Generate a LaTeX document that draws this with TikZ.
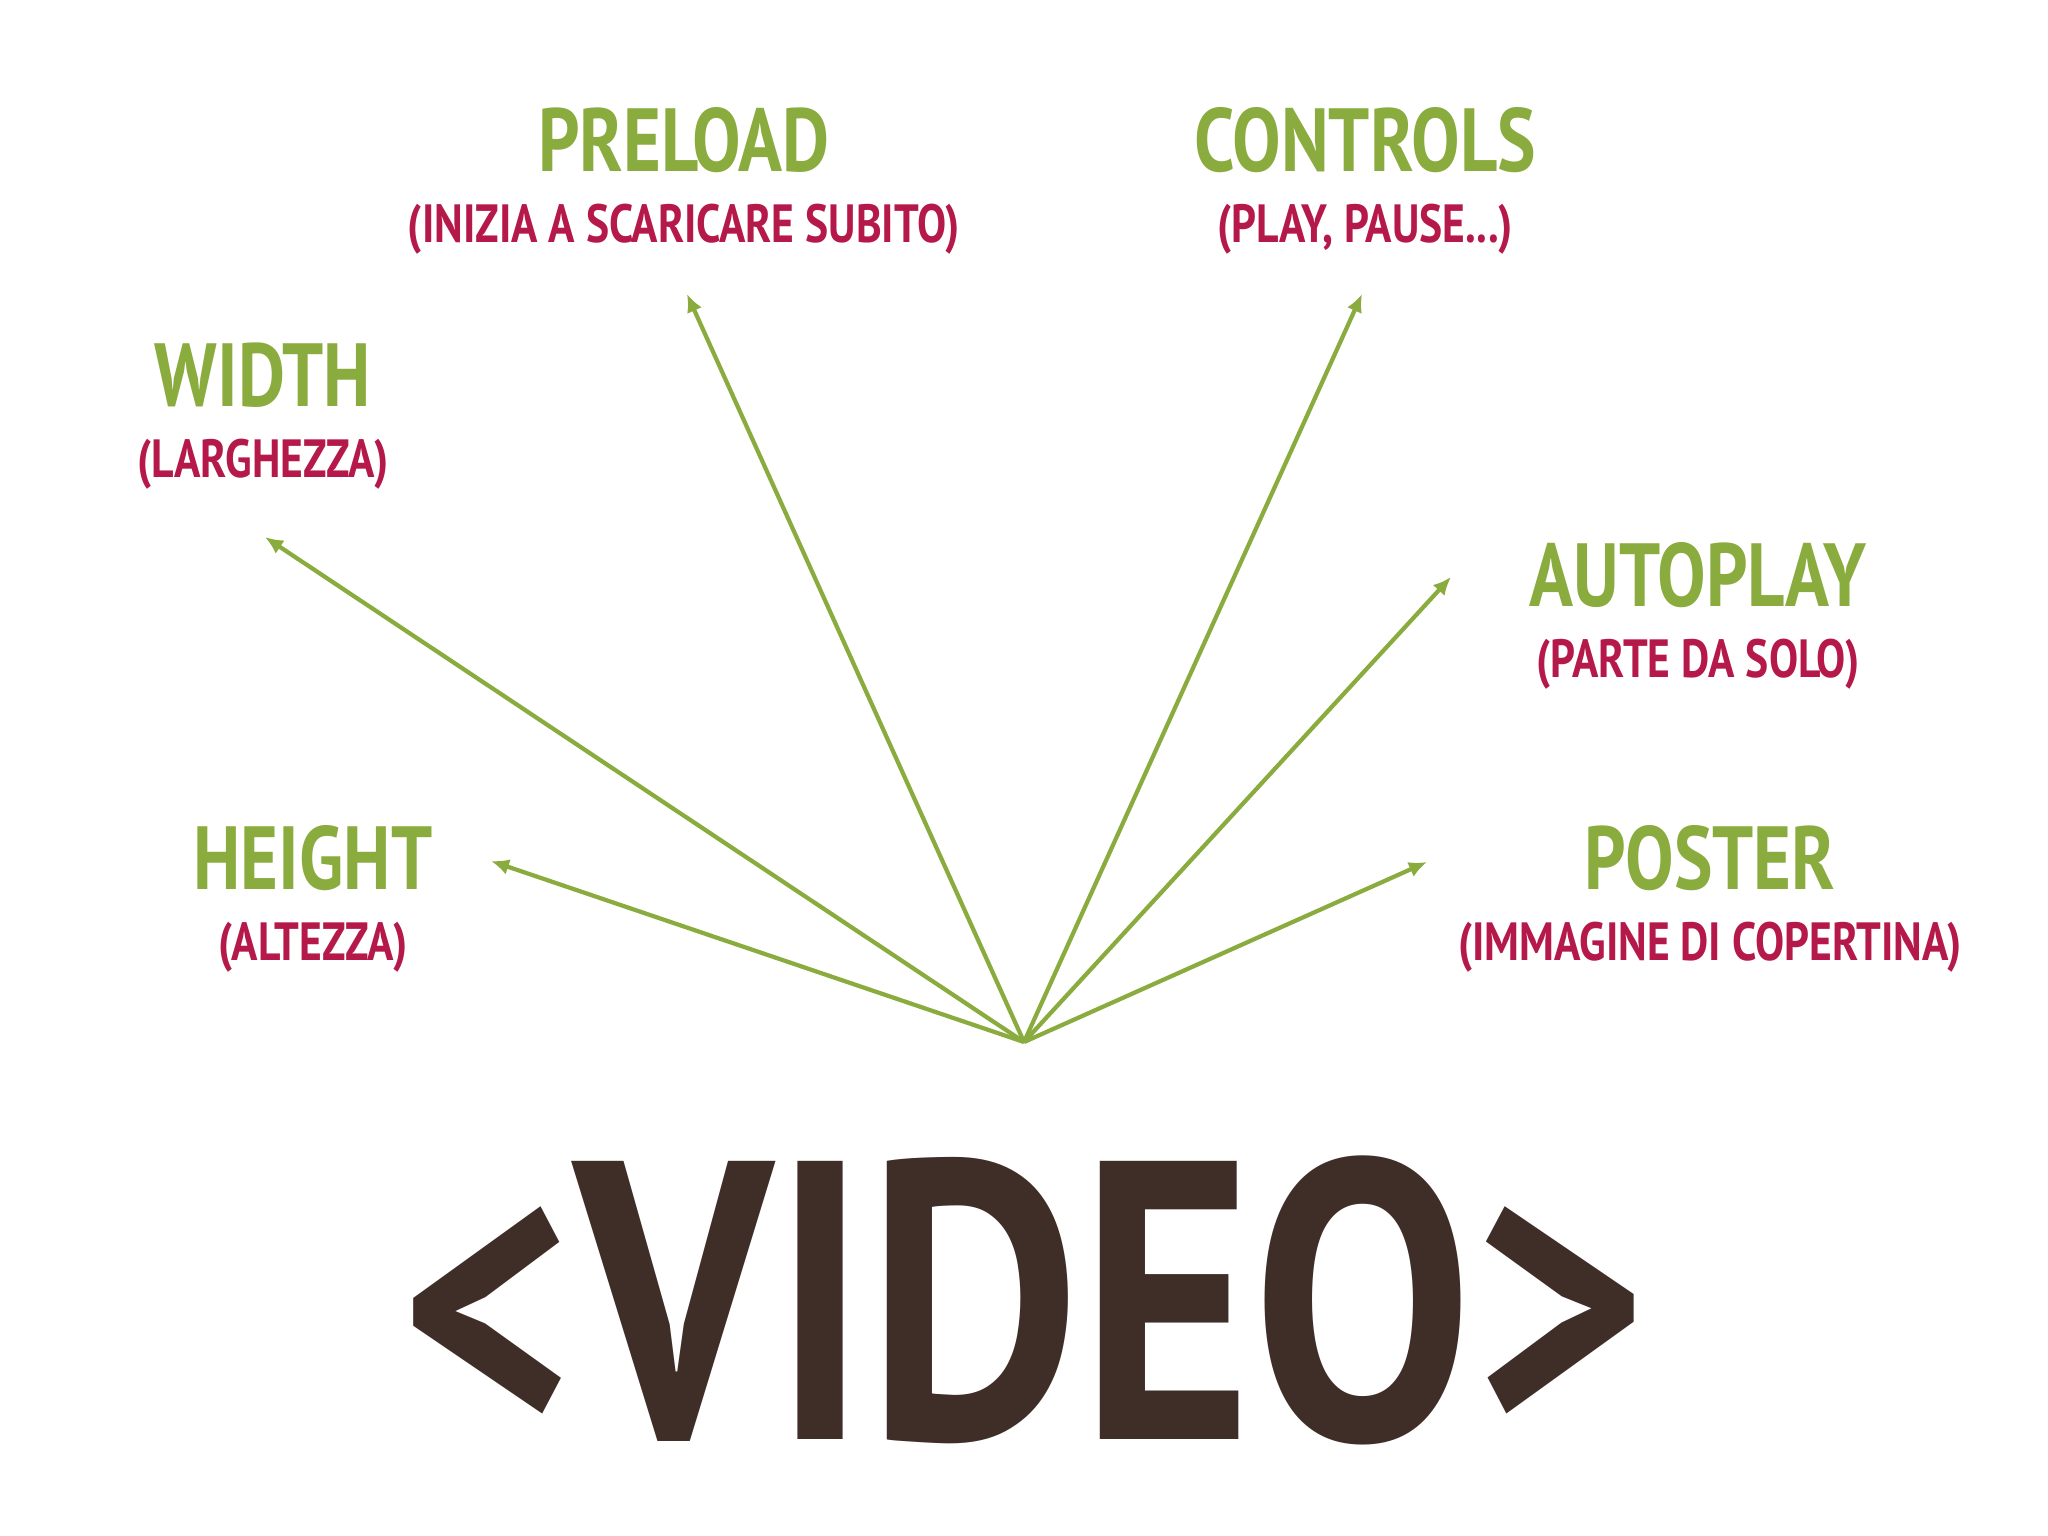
\documentclass[tikz,border=0pt]{standalone}
\usepackage{fontspec}
\setmainfont{PT Sans}
\newfontfamily\narrowfont{PT Sans}[FakeStretch=0.81]
\usetikzlibrary{positioning, arrows.meta}

\definecolor{tagGreen}{HTML}{8AAC3E}
\definecolor{tagRed}{HTML}{B5194A}
\definecolor{tagBrown}{HTML}{3F2D28}

\begin{document}
\begin{tikzpicture}[
    x=0.01cm, y=-0.01cm,
    attr/.style={font=\narrowfont\bfseries\fontsize{25.5}{25.5}\selectfont, text=tagGreen, inner sep=0pt},
    note/.style={font=\narrowfont\bfseries\fontsize{15.3}{15.3}\selectfont, text=tagRed, inner sep=0pt},
    ray/.style={-{Latex[length=1.8mm, width=1.6mm]}, draw=tagGreen, line width=1.2pt}
]
    \useasboundingbox[fill=white] (0,0) rectangle (2048,1536);

    % Attributes
    \node[attr] (preload) at (684,140) {PRELOAD};
    \node[note, below=0.3cm of preload] (preloadNote) {(INIZIA A SCARICARE SUBITO)};

    \node[attr] (controls) at (1365,140) {CONTROLS};
    \node[note, below=0.3cm of controls] (controlsNote) {(PLAY, PAUSE...)};

    \node[attr] (width) at (263,375) {WIDTH};
    \node[note, below=0.3cm of width] (widthNote) {(LARGHEZZA)};

    \node[attr] (autoplay) at (1698,575) {AUTOPLAY};
    \node[note, below=0.3cm of autoplay] (autoplayNote) {(PARTE DA SOLO)};

    \node[attr] (height) at (313,858) {HEIGHT};
    \node[note, below=0.3cm of height] (heightNote) {(ALTEZZA)};

    \node[attr] (poster) at (1710,858) {POSTER};
    \node[note, below=0.3cm of poster] (posterNote) {(IMMAGINE DI COPERTINA)};

    % The tag
    \node[font=\bfseries\fontsize{113}{113}\selectfont, text=tagBrown, inner sep=0pt] (tag) at (1024,1300)
        {\scalebox{0.83}[1]{<VIDEO>}};

    % Arrow tips
    \coordinate (hub) at (1024,1042);
    \coordinate (preloadTip) at (687,294);
    \coordinate (controlsTip) at (1362,294);
    \coordinate (widthTip) at (265,537);
    \coordinate (autoplayTip) at (1451,577);
    \coordinate (heightTip) at (491,861);
    \coordinate (posterTip) at (1427,862);

    \foreach \t in {preloadTip, controlsTip, widthTip, autoplayTip, heightTip, posterTip}
        \draw[ray] (hub) -- (\t);

\end{tikzpicture}
\end{document}
